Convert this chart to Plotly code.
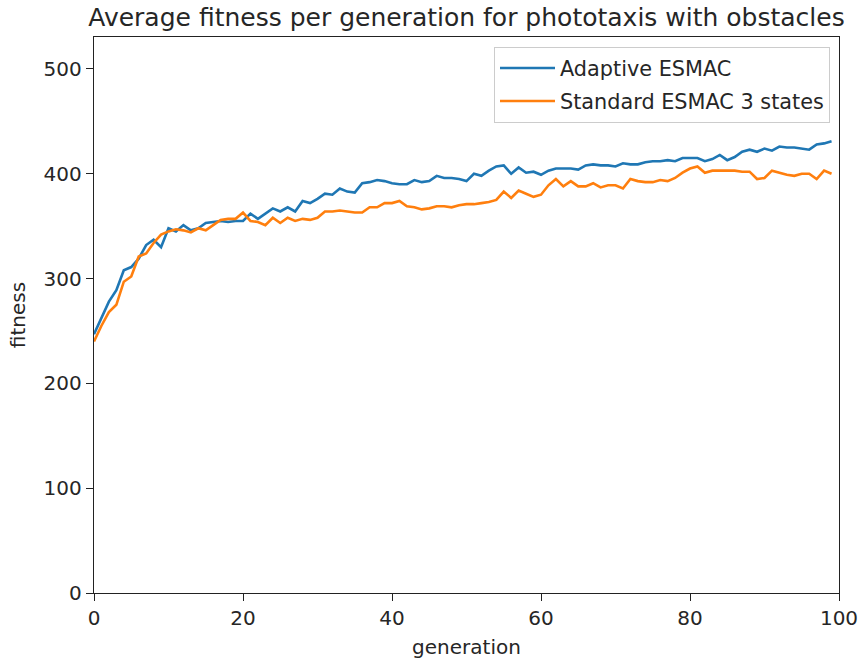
import plotly.graph_objects as go

generations = list(range(100))
adaptive = [247, 262, 278, 289, 308, 311, 319, 332, 337, 330,
            348, 345, 351, 346, 348, 353, 354, 355, 354, 355,
            355, 362, 357, 362, 367, 364, 368, 364, 374, 372,
            376, 381, 380, 386, 383, 382, 391, 392, 394, 393,
            391, 390, 390, 394, 392, 393, 398, 396, 396, 395,
            393, 400, 398, 403, 407, 408, 400, 406, 401, 402,
            399, 403, 405, 405, 405, 404, 408, 409, 408, 408,
            407, 410, 409, 409, 411, 412, 412, 413, 412, 415,
            415, 415, 412, 414, 418, 413, 416, 421, 423, 421,
            424, 422, 426, 425, 425, 424, 423, 428, 429, 431]
standard = [240, 255, 268, 275, 297, 302, 321, 324, 334, 342,
            345, 347, 346, 344, 348, 346, 351, 356, 357, 357,
            363, 355, 354, 351, 358, 353, 358, 355, 357, 356,
            358, 364, 364, 365, 364, 363, 363, 368, 368, 372,
            372, 374, 369, 368, 366, 367, 369, 369, 368, 370,
            371, 371, 372, 373, 375, 383, 377, 384, 381, 378,
            380, 389, 395, 388, 393, 388, 388, 391, 387, 389,
            389, 386, 395, 393, 392, 392, 394, 393, 396, 401,
            405, 407, 401, 403, 403, 403, 403, 402, 402, 395,
            396, 403, 401, 399, 398, 400, 400, 395, 403, 400]

x_ticks = [0, 20, 40, 60, 80, 100]
y_ticks = [0, 100, 200, 300, 400, 500]

FONT = "DejaVu Sans"
FS = 20
TXT = "#262626"
fig = go.Figure()
fig.add_trace(go.Scatter(x=generations, y=adaptive, mode="lines", name="Adaptive ESMAC",
                         line=dict(color="#1f77b4", width=2.6), legendgroup="a"))
fig.add_trace(go.Scatter(x=generations, y=standard, mode="lines", name="Standard ESMAC 3 states",
                         line=dict(color="#ff7f0e", width=2.6), legendgroup="b"))

L, R, T, B = 94, 22, 37, 68
W, H = 861, 661
pw = W - L - R
ph = H - T - B

axis_common = dict(showgrid=False, zeroline=False, showline=True, linecolor="#222222",
                   linewidth=1.4, mirror=True, ticks="outside", ticklen=7, tickwidth=1.4,
                   tickcolor="#222222", tickfont=dict(family=FONT, size=FS, color=TXT),
                   automargin=False)

fig.update_layout(
    width=W, height=H,
    margin=dict(l=L, r=R, t=T, b=B),
    paper_bgcolor="white", plot_bgcolor="white",
    title=dict(text="Average fitness per generation for phototaxis with obstacles",
               x=(L + pw / 2) / W, xanchor="center", y=1 - 17 / H, yanchor="middle",
               font=dict(family=FONT, size=25, color=TXT)),
    xaxis=dict(range=[0, 100], tickvals=x_ticks,
               title=dict(text="generation", font=dict(family=FONT, size=FS, color=TXT), standoff=10),
               **axis_common),
    yaxis=dict(range=[0, 530.5], tickvals=y_ticks,
               title=dict(text="fitness", font=dict(family=FONT, size=FS, color=TXT), standoff=12),
               **axis_common),
    legend=dict(x=1 - 9 / pw, xanchor="right", y=1 - 10 / ph, yanchor="top",
                bgcolor="rgba(255,255,255,0.8)", bordercolor="#cccccc", borderwidth=1,
                font=dict(family=FONT, size=20.8, color=TXT),
                traceorder="grouped", tracegroupgap=3, itemwidth=55),
    showlegend=True,
)

fig.write_html("out.html")
